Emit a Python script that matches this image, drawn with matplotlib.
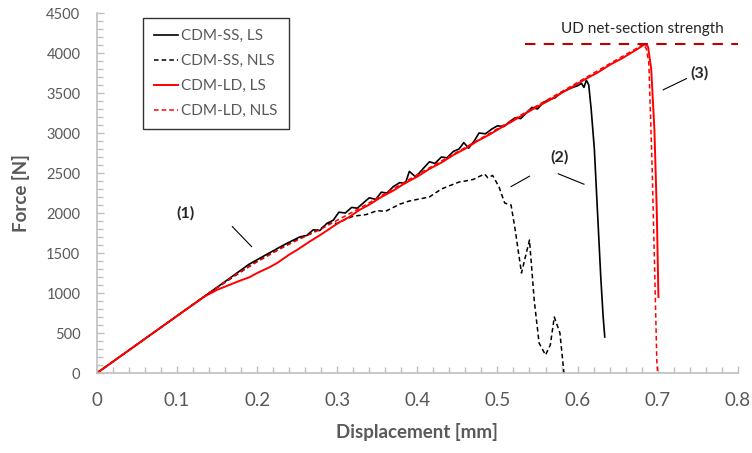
import matplotlib.pyplot as plt
from matplotlib.ticker import MultipleLocator, FormatStrFormatter

# force-displacement curves (displacement in mm, force in N)
ss_ls_x = [0, 0.07, 0.14, 0.165, 0.19, 0.215, 0.235, 0.253, 0.262, 0.27, 0.278, 0.287,
           0.295, 0.302, 0.31, 0.318, 0.325, 0.333, 0.34, 0.348, 0.355, 0.362, 0.37,
           0.378, 0.385, 0.39, 0.398, 0.405, 0.415, 0.422, 0.43, 0.437, 0.445, 0.452,
           0.458, 0.464, 0.471, 0.477, 0.485, 0.493, 0.50, 0.508, 0.515, 0.522, 0.529,
           0.536, 0.543, 0.55, 0.557, 0.565, 0.572, 0.58, 0.587, 0.594, 0.60, 0.605,
           0.608, 0.611, 0.614, 0.617, 0.621, 0.625, 0.629, 0.632, 0.634]
ss_ls_f = [0, 500, 1000, 1180, 1360, 1500, 1610, 1700, 1720, 1790, 1780, 1870,
           1910, 2010, 2000, 2070, 2060, 2130, 2190, 2170, 2260, 2250, 2330,
           2380, 2370, 2520, 2450, 2530, 2640, 2620, 2700, 2690, 2770, 2800,
           2880, 2810, 2900, 3000, 2990, 3050, 3090, 3080, 3140, 3190, 3180,
           3250, 3320, 3300, 3380, 3420, 3440, 3510, 3540, 3570, 3590, 3620,
           3570, 3660, 3600, 3300, 2800, 2000, 1200, 700, 450]

ss_nls_x = [0, 0.07, 0.14, 0.2, 0.25, 0.27, 0.28, 0.29, 0.30, 0.31, 0.32, 0.336,
            0.35, 0.36, 0.378, 0.39, 0.40, 0.415, 0.43, 0.44, 0.452, 0.46, 0.47,
            0.478, 0.484, 0.488, 0.494, 0.502, 0.509, 0.517, 0.522, 0.530, 0.540,
            0.546, 0.552, 0.560, 0.566, 0.571, 0.578, 0.583]
ss_nls_f = [0, 500, 1000, 1400, 1670, 1760, 1810, 1875, 1870, 1920, 1960, 1980,
            2030, 2020, 2110, 2150, 2170, 2200, 2300, 2340, 2387, 2400, 2420,
            2460, 2487, 2440, 2470, 2325, 2125, 2100, 1800, 1250, 1662,
            900, 375, 225, 350, 700, 500, 0]

ld_ls_x = [0, 0.07, 0.12, 0.135, 0.15, 0.165, 0.18, 0.19, 0.2, 0.215, 0.225, 0.24,
           0.25, 0.265, 0.278, 0.29, 0.302, 0.315, 0.328, 0.34, 0.355, 0.37, 0.385,
           0.40, 0.415, 0.43, 0.445, 0.46, 0.475, 0.49, 0.505, 0.52, 0.535, 0.55,
           0.565, 0.58, 0.595, 0.61, 0.625, 0.64, 0.655, 0.67, 0.678, 0.684,
           0.688, 0.692, 0.696, 0.699, 0.701]
ld_ls_f = [0, 500, 855, 960, 1040, 1100, 1160, 1195, 1250, 1320, 1375, 1480,
           1540, 1640, 1720, 1800, 1880, 1950, 2040, 2105, 2200, 2280, 2375,
           2455, 2550, 2630, 2725, 2805, 2900, 2980, 3070, 3155, 3245, 3330,
           3410, 3500, 3585, 3675, 3755, 3850, 3930, 4020, 4070, 4110,
           4080, 3800, 3040, 2000, 950]

ld_nls_x = [0, 0.07, 0.14, 0.17, 0.2, 0.23, 0.25, 0.28, 0.30, 0.33, 0.36, 0.40,
            0.43, 0.46, 0.49, 0.52, 0.55, 0.58, 0.61, 0.64, 0.66, 0.675, 0.682,
            0.686, 0.689, 0.693, 0.697, 0.699, 0.700]
ld_nls_f = [0, 500, 1000, 1210, 1390, 1560, 1660, 1800, 1910, 2070, 2245, 2480,
            2650, 2820, 2995, 3170, 3345, 3515, 3690, 3865, 3980, 4065, 4115,
            4050, 3875, 2625, 1000, 137, 0]

ud_strength = 4110
ud_x = [0.534, 0.8]

plt.rcParams['font.family'] = ['Lato', 'DejaVu Sans']
grey = '#595959'
axis_grey = '#BFBFBF'

fig = plt.figure(figsize=(7.52, 4.53), dpi=100)
ax = fig.add_axes([0.129, 0.1766, 0.852, 0.7947])

ax.plot(ss_ls_x, ss_ls_f, color='black', lw=1.2, label='CDM-SS, LS')
ax.plot(ss_nls_x, ss_nls_f, color='black', lw=1.1, dashes=(3, 2), label='CDM-SS, NLS')
ax.plot(ld_ls_x, ld_ls_f, color='red', lw=1.4, label='CDM-LD, LS')
ax.plot(ld_nls_x, ld_nls_f, color='red', lw=1.1, dashes=(3, 2), label='CDM-LD, NLS')

ax.plot(ud_x, [ud_strength, ud_strength], color='#C00000', lw=1.5, dashes=(5, 4),
        clip_on=False)
ax.text(0.681, 4300, 'UD net-section strength', ha='center', va='center',
        fontsize=11, color='#262626')

# numbered callouts
ax.text(0.111, 1990, '(1)', ha='center', va='center', fontsize=11.5, fontweight='bold', color='#262626')
ax.plot([0.169, 0.193], [1830, 1580], color='black', lw=0.8)
ax.text(0.577, 2700, '(2)', ha='center', va='center', fontsize=11.5, fontweight='bold', color='#262626')
ax.plot([0.517, 0.540], [2330, 2460], color='black', lw=0.8)
ax.plot([0.576, 0.608], [2490, 2360], color='black', lw=0.8)
ax.text(0.752, 3750, '(3)', ha='center', va='center', fontsize=11.5, fontweight='bold', color='#262626')
ax.plot([0.707, 0.736], [3540, 3680], color='black', lw=0.8)

ax.set_xlim(0, 0.8)
ax.set_ylim(0, 4500)
ax.xaxis.set_major_locator(MultipleLocator(0.1))
ax.xaxis.set_minor_locator(MultipleLocator(0.02))
ax.xaxis.set_major_formatter(FormatStrFormatter('%g'))
ax.yaxis.set_major_locator(MultipleLocator(500))
ax.yaxis.set_minor_locator(MultipleLocator(100))

for side in ['top', 'right']:
    ax.spines[side].set_visible(False)
for side in ['left', 'bottom']:
    ax.spines[side].set_color(axis_grey)
    ax.spines[side].set_linewidth(1.2)

ax.tick_params(axis='both', which='both', direction='in', color=axis_grey, width=1)
ax.tick_params(axis='both', which='major', length=5)
ax.tick_params(axis='both', which='minor', length=4)
ax.tick_params(axis='x', which='major', labelsize=13.5, labelcolor=grey, pad=14)
ax.tick_params(axis='y', which='major', labelsize=10.5, labelcolor=grey, pad=12)

ax.set_xlabel('Displacement [mm]', fontsize=13.5, fontweight='bold', color=grey, labelpad=10)
ax.set_ylabel('Force [N]', fontsize=13.5, fontweight='bold', color=grey, labelpad=12)

leg = ax.legend(loc='upper left', bbox_to_anchor=(0.072, 0.985), fontsize=11,
                frameon=True, fancybox=False, handlelength=1.6, handletextpad=0.2,
                labelspacing=0.72, borderpad=0.7, borderaxespad=0, labelcolor=grey)
leg.get_frame().set_edgecolor('black')
leg.get_frame().set_linewidth(1)

fig.savefig('out.png', dpi=100)
